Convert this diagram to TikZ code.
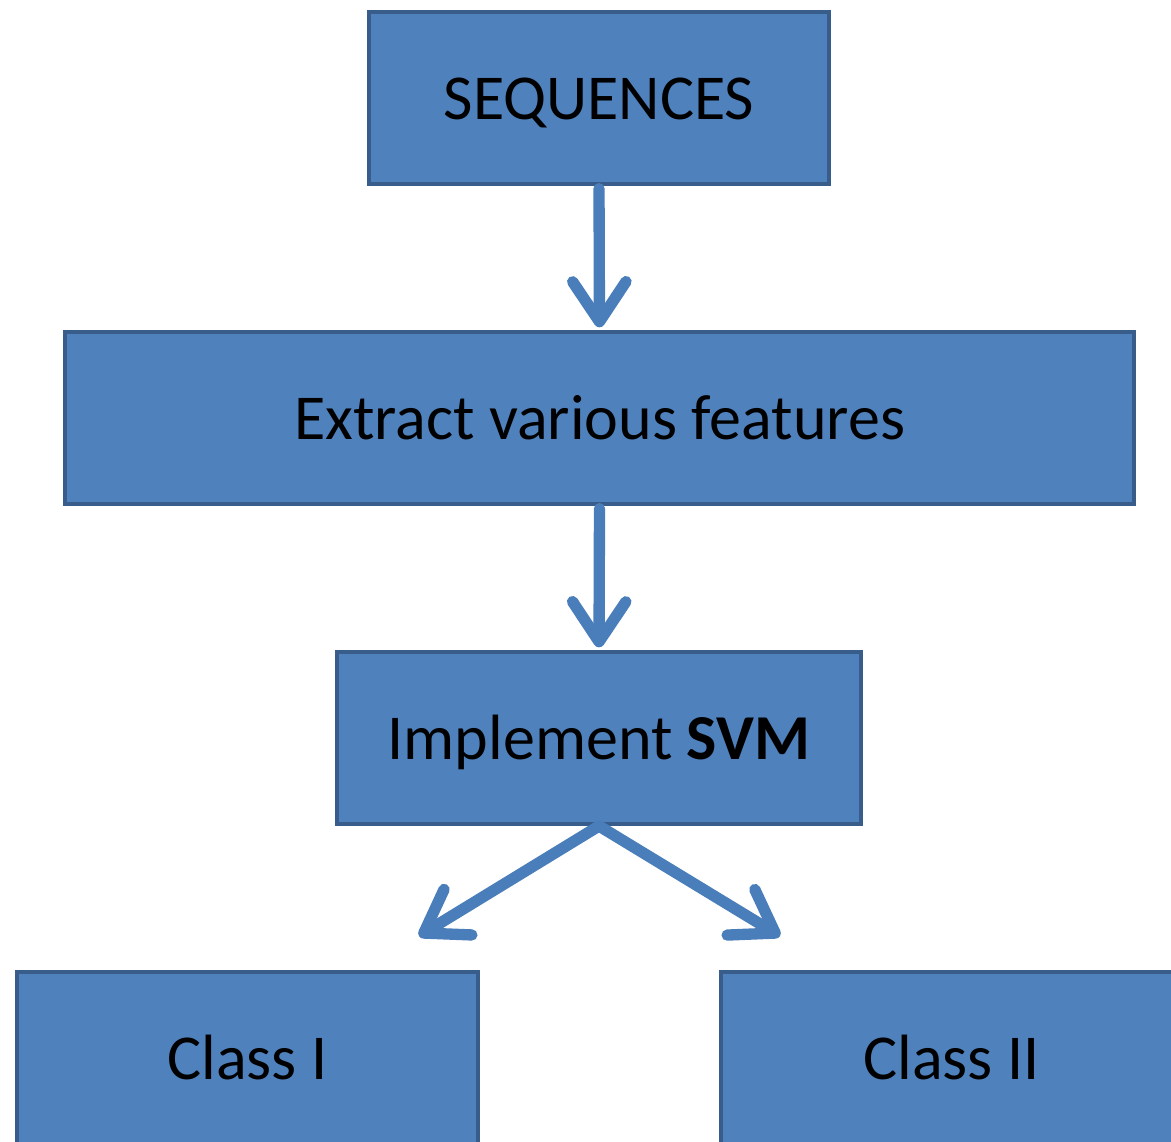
\documentclass[tikz,border=0pt]{standalone}
\usepackage{fontspec}
\setmainfont{Carlito}
\usetikzlibrary{arrows.meta}
\definecolor{boxfill}{HTML}{4F81BD}
\definecolor{boxline}{HTML}{385D8A}
\definecolor{linkblue}{HTML}{4A7EBB}
\tikzset{
  stage/.style={draw=boxline, fill=boxfill, line width=3pt, inner sep=0pt,
    minimum height=129pt, text height=36pt, text depth=4.5pt, text=black,
    font=\fontsize{48}{56}\selectfont},
  link/.style={draw=linkblue, line width=8.5pt, line cap=round, line join=round,
    -{Straight Barb[length=30pt, width=40pt, round]}}
}
\begin{document}
\begin{tikzpicture}[x=0.75pt, y=-0.75pt]
  \useasboundingbox (0,0) rectangle (1171,1142);
  \clip (0,0) rectangle (1171,1142);
  \node[stage, minimum width=345pt] (seq) at (599,98) {SEQUENCES};
  \node[stage, minimum width=801.75pt] (ext) at (599.5,418) {Extract various features};
  \node[stage, minimum width=393pt] (svm) at (599,738) {Implement \textbf{SVM}};
  \node[stage, minimum width=345.75pt] (c1) at (247.5,1058) {Class I};
  \node[stage, minimum width=345.75pt] (c2) at (951.5,1058) {Class II};
  \coordinate (t1) at (419,936);
  \coordinate (t2) at (780,936);
  \draw[link, shorten <=2pt, shorten >=2pt] (seq.south) -- (ext.north);
  \draw[link, shorten <=2pt, shorten >=2pt] (ext.south) -- (svm.north);
  \draw[link] (svm.south) -- (t1);
  \draw[link] (svm.south) -- (t2);
\end{tikzpicture}
\end{document}
